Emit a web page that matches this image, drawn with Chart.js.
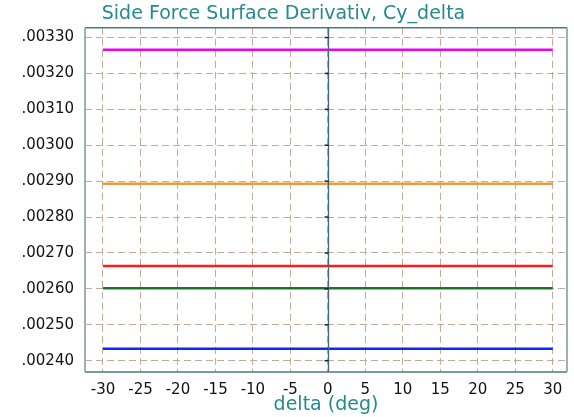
<!DOCTYPE html>
<html>
<head>
<meta charset="utf-8">
<script src="https://cdn.jsdelivr.net/npm/chart.js@4.4.0/dist/chart.umd.min.js"></script>
<style>
  html, body { margin: 0; padding: 0; background: #fff; }
  #wrap { width: 574px; height: 417px; }
</style>
</head>
<body>
<div id="wrap"><canvas id="c" width="574" height="417"></canvas></div>
<script>
// delta range of each curve (deg)
const deltaDeg = [-30, 30];
const xTicks = [-30, -25, -20, -15, -10, -5, 0, 5, 10, 15, 20, 25, 30];
const yTicks = [0.0024, 0.0025, 0.0026, 0.0027, 0.0028, 0.0029, 0.0030, 0.0031, 0.0032, 0.0033];

// Cy_delta, constant over delta
const magentaVals = [0.003266, 0.003266];
const orangeVals = [0.0028925, 0.0028925];
const redVals = [0.002664, 0.002664];
const greenVals = [0.002602, 0.002602];
const blueVals = [0.002433, 0.002433];

const teal = '#25898d';
const gridCol = '#c4ab98';

function pts(vals) {
  return deltaDeg.map((d, i) => ({x: d, y: vals[i]}));
}

function ds(vals, color) {
  return {
    data: pts(vals),
    borderColor: color,
    backgroundColor: color,
    borderWidth: 2.5,
    pointRadius: 0,
    tension: 0
  };
}

// frame, zero line and little ticks on it
const framePlugin = {
  id: 'frame',
  afterDatasetsDraw(chart) {
    const ctx = chart.ctx;
    const a = chart.chartArea;
    const xs = chart.scales.x;
    const ys = chart.scales.y;
    const x0 = Math.round(xs.getPixelForValue(0)) + 0.5;
    ctx.save();
    ctx.strokeStyle = '#3f6c74';
    ctx.lineWidth = 1.3;
    ctx.beginPath();
    ctx.moveTo(x0, a.top);
    ctx.lineTo(x0, a.bottom);
    ctx.stroke();
    ctx.strokeStyle = '#222';
    ctx.lineWidth = 1.5;
    yTicks.forEach(v => {
      const y = ys.getPixelForValue(v);
      ctx.beginPath();
      ctx.moveTo(x0 - 4, y);
      ctx.lineTo(x0, y);
      ctx.stroke();
    });
    ctx.lineWidth = 1.5;
    ctx.strokeStyle = '#4f7880';
    ctx.beginPath();
    ctx.moveTo(a.left, a.top);
    ctx.lineTo(a.right, a.top);
    ctx.moveTo(a.left, a.bottom);
    ctx.lineTo(a.right, a.bottom);
    ctx.stroke();
    ctx.strokeStyle = '#9cb0b6';
    ctx.lineWidth = 2;
    ctx.beginPath();
    ctx.moveTo(a.left, a.top);
    ctx.lineTo(a.left, a.bottom);
    ctx.moveTo(a.right, a.top);
    ctx.lineTo(a.right, a.bottom);
    ctx.stroke();
    ctx.restore();
  }
};

new Chart(document.getElementById('c'), {
  type: 'line',
  data: {
    datasets: [
      ds(magentaVals, '#ee00ee'),
      ds(orangeVals, '#f0993a'),
      ds(redVals, '#ff1c1c'),
      ds(greenVals, '#17762c'),
      ds(blueVals, '#0a28ff')
    ]
  },
  options: {
    responsive: false,
    animation: false,
    layout: { padding: { left: 0, right: 7, top: 0, bottom: 0 } },
    plugins: {
      legend: { display: false },
      tooltip: { enabled: false },
      title: {
        display: true,
        text: 'Side Force Surface Derivativ, Cy_delta',
        color: teal,
        font: { family: 'DejaVu Sans', size: 19, weight: 'normal', lineHeight: 1.15 },
        padding: { top: 3, bottom: 3 }
      }
    },
    scales: {
      x: {
        type: 'linear',
        min: -32.4,
        max: 31.9,
        afterBuildTicks(scale) { scale.ticks = xTicks.map(v => ({value: v})); },
        afterFit(scale) { scale.height = 45; },
        grid: { color: gridCol, lineWidth: 1, drawTicks: false },
        border: { display: false, dash: [7, 4] },
        ticks: {
          color: '#111',
          padding: 9,
          maxRotation: 0,
          autoSkip: false,
          font: { family: 'DejaVu Sans', size: 15 }
        },
        title: {
          display: true,
          text: 'delta (deg)',
          color: teal,
          font: { family: 'DejaVu Sans', size: 19 },
          padding: { top: 0, bottom: 1 }
        }
      },
      y: {
        type: 'linear',
        min: 0.0023685,
        max: 0.003327,
        afterBuildTicks(scale) { scale.ticks = yTicks.map(v => ({value: v})); },
        afterFit(scale) { scale.width = 85; },
        grid: { color: gridCol, lineWidth: 1, drawTicks: false },
        border: { display: false, dash: [7, 4] },
        ticks: {
          color: '#111',
          padding: 11,
          autoSkip: false,
          font: { family: 'DejaVu Sans', size: 15 },
          callback: v => '.' + (v * 100000).toFixed(0).padStart(5, '0')
        }
      }
    }
  },
  plugins: [framePlugin]
});
</script>
</body>
</html>
